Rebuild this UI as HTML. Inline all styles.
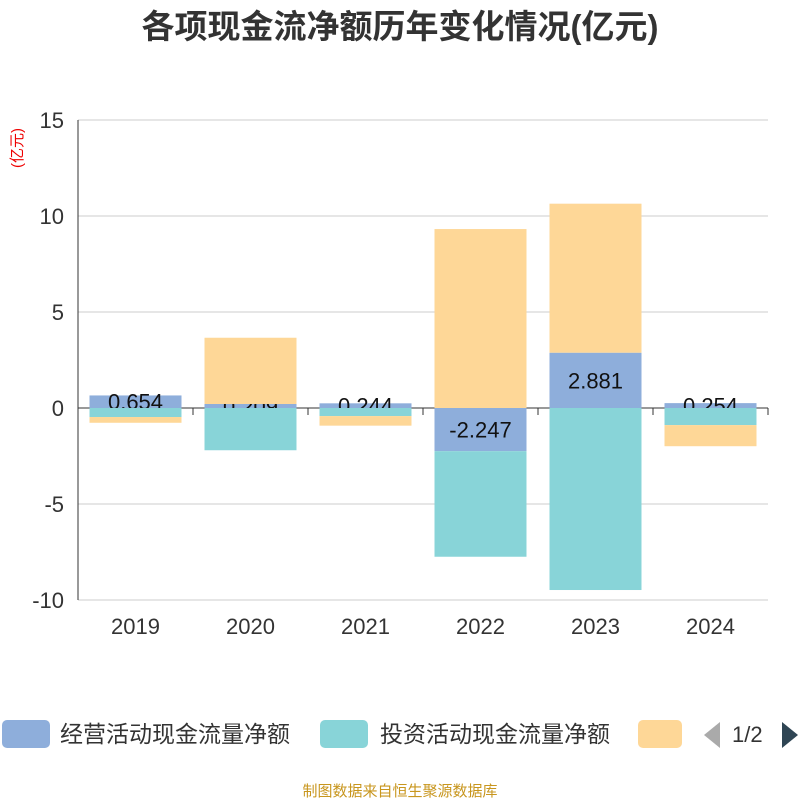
<!DOCTYPE html>
<html><head><meta charset="utf-8"><style>
body{margin:0;background:#fff;font-family:"Liberation Sans","Noto Sans CJK SC",sans-serif}
</style></head><body>
<svg width="800" height="800" id="c" xmlns="http://www.w3.org/2000/svg" font-family="Liberation Sans, Noto Sans CJK SC, sans-serif">
<text x="400" y="38" text-anchor="middle" font-size="33" font-weight="bold" fill="#333">各项现金流净额历年变化情况(亿元)</text>
<text transform="translate(22,148) rotate(-90)" text-anchor="middle" font-size="15" fill="#e00">(亿元)</text>
<g id="grid"></g><g id="bars"></g>
<g>
<rect x="2" y="720" width="48" height="28" rx="5" fill="#8eaedb"/>
<text x="60" y="742" font-size="23" fill="#333">经营活动现金流量净额</text>
<rect x="320" y="720" width="48" height="28" rx="5" fill="#88d4d8"/>
<text x="380" y="742" font-size="23" fill="#333">投资活动现金流量净额</text>
<rect x="638" y="720" width="44" height="28" rx="5" fill="#fed797"/>
<path d="M720 722 L704 735 L720 748Z" fill="#aaa"/>
<text x="732" y="742" font-size="22" fill="#333">1/2</text>
<path d="M782 722 L798 735 L782 748Z" fill="#2f4554"/>
</g>
<text x="400" y="796" text-anchor="middle" font-size="15" fill="#c8961e">制图数据来自恒生聚源数据库</text>
</svg>
<script>
const years=["2019","2020","2021","2022","2023","2024"];
const operating=[0.654,0.209,0.244,-2.247,2.881,0.254];
const investing=[-0.47,-2.2,-0.42,-5.5,-9.48,-0.89];
const financing=[-0.3,3.45,-0.5,9.32,7.76,-1.1];
const yTicks=[15,10,5,0,-5,-10];
const NS="http://www.w3.org/2000/svg";
const L=78,R=768,T=120,B=600,yMax=15,yMin=-10;
const y=v=>T+(yMax-v)/(yMax-yMin)*(B-T);
const bw=(R-L)/years.length, xc=i=>L+bw*(i+0.5), barW=92;
function mk(tag,attrs,parent,text){const e=document.createElementNS(NS,tag);for(const k in attrs)e.setAttribute(k,attrs[k]);if(text!==undefined)e.textContent=text;parent.appendChild(e);return e;}
const g=document.getElementById('grid'),b=document.getElementById('bars');
yTicks.forEach(t=>{
 const l=mk('line',{x1:L,x2:R,y1:y(t),y2:y(t),stroke:t===0?'#333':'#ccc','stroke-width':1},g);
 
 
 const tx=mk('text',{x:L-14,y:y(t)+8,'text-anchor':'end','font-size':22,fill:'#333'},g,String(t));
 
 
});
const ax=mk('line',{x1:L,x2:L,y1:T,y2:B,stroke:'#333'},g);


for(let i=0;i<=years.length;i++){const tk=mk('line',{x1:L+bw*i,x2:L+bw*i,y1:y(0),y2:y(0)+7,stroke:'#333'},g);
 
 }
years.forEach((yr,i)=>{const t=mk('text',{x:xc(i),y:634,'text-anchor':'middle','font-size':22,fill:'#333'},g,yr);
 
 });
const pos=years.map(()=>0),neg=years.map(()=>0);
function seg(v,i,color,name){
 let a,c; if(v>=0){a=pos[i];c=a+v;pos[i]=c;}else{a=neg[i];c=a+v;neg[i]=c;}
 const r=mk('rect',{x:xc(i)-barW/2,y:Math.min(y(a),y(c)),width:barW,height:Math.abs(y(c)-y(a)),fill:color},b);
 
 
 return [a,c];
}
const opPos=operating.map((v,i)=>seg(v,i,'#8eaedb','operating'));
operating.forEach((v,i)=>{const m=(opPos[i][0]+opPos[i][1])/2;
 const t=mk('text',{x:xc(i),y:y(m)+8,'text-anchor':'middle','font-size':22,fill:'#111'},b,v.toFixed(3));
 
 });
investing.forEach((v,i)=>seg(v,i,'#88d4d8','investing'));
financing.forEach((v,i)=>seg(v,i,'#fed797','financing'));
</script>
</body></html>
